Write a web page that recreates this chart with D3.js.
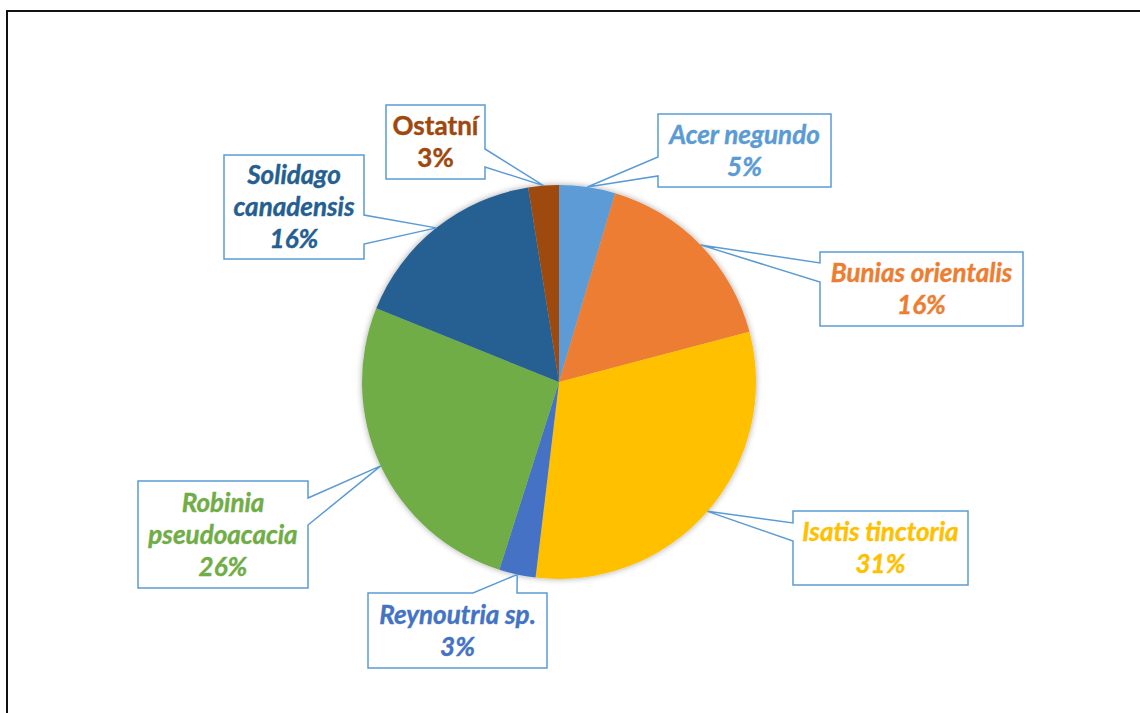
<!DOCTYPE html>
<html><head><meta charset="utf-8">
<script src="https://cdn.jsdelivr.net/npm/d3@7"></script>
<style>html,body{margin:0;padding:0;background:#fff;}svg{display:block;}</style>
</head><body>
<script>
// ---- data ----
const categories = ["Acer negundo","Bunias orientalis","Isatis tinctoria","Reynoutria sp.","Robinia pseudoacacia","Solidago canadensis","Ostatní"];
const values = [4.6, 16.3, 31.0, 3.0, 26.2, 16.4, 2.5];
const labelLines = [["Acer negundo"],["Bunias orientalis"],["Isatis tinctoria"],["Reynoutria sp."],["Robinia","pseudoacacia"],["Solidago","canadensis"],["Ostatní"]];
const colors = ["#5B9BD5","#ED7D31","#FFC000","#4472C4","#70AD47","#255E91","#9E480E"];
const italic = [true,true,true,true,true,true,false];

// ---- layout (callout boxes) ----
const boxes = [
  {x:658,y:114,w:173,h:73,side:"left",b1:43,b2:62},
  {x:820,y:252,w:203,h:74,side:"left",b1:11,b2:30},
  {x:793,y:511,w:175,h:74,side:"left",b1:12,b2:30},
  {x:368,y:593,w:179,h:75,side:"top",b1:105,b2:149},
  {x:138,y:481,w:170,h:107,side:"right",b1:17,b2:44},
  {x:224,y:155,w:140,h:104,side:"right",b1:60,b2:89},
  {x:386,y:105,w:99,h:74,side:"right",b1:44,b2:62}
];

const W=1140,H=713, cx=559, cy=382, R=197;
const svg=d3.select("body").append("svg").attr("width",W).attr("height",H);
const defs=svg.append("defs");
const f=defs.append("filter").attr("id","sh").attr("x","-20%").attr("y","-20%").attr("width","140%").attr("height","140%");
f.append("feDropShadow").attr("dx",0).attr("dy",0).attr("stdDeviation",3).attr("flood-color","#000").attr("flood-opacity",0.35);

svg.append("rect").attr("x",7).attr("y",11).attr("width",W).attr("height",H).attr("fill","#fff").attr("stroke","#111").attr("stroke-width",2);

const data = categories.map((c,i)=>({name:c,value:values[i],i}));
const pie=d3.pie().value(d=>d.value).sort(null);
const arcs=pie(data);
const arc=d3.arc().innerRadius(0).outerRadius(R);
const total=d3.sum(values);

const g=svg.append("g").attr("transform",`translate(${cx},${cy})`);
g.append("g").attr("filter","url(#sh)").selectAll("path").data(arcs).join("path")
  .attr("d",arc).attr("fill",d=>colors[d.data.i]);

// callouts
const lab=svg.append("g");
arcs.forEach((a,k)=>{
  const i=a.data.i, b=boxes[i];
  const m=(a.startAngle+a.endAngle)/2;
  const tx=cx+R*Math.sin(m), ty=cy-R*Math.cos(m);
  let p;
  if(b.side==="right"){
    p=`M${b.x},${b.y}H${b.x+b.w}V${b.y+b.b1}L${tx},${ty}L${b.x+b.w},${b.y+b.b2}V${b.y+b.h}H${b.x}Z`;
  } else if(b.side==="left"){
    p=`M${b.x},${b.y}H${b.x+b.w}V${b.y+b.h}H${b.x}V${b.y+b.b2}L${tx},${ty}L${b.x},${b.y+b.b1}Z`;
  } else {
    p=`M${b.x},${b.y}H${b.x+b.b1}L${tx},${ty}L${b.x+b.b2},${b.y}H${b.x+b.w}V${b.y+b.h}H${b.x}Z`;
  }
  lab.append("path").attr("d",p).attr("fill","#fff").attr("stroke","#5B9BD5").attr("stroke-width",1.5).attr("stroke-linejoin","miter");
  const lines=labelLines[i].concat([Math.round(values[i]/total*100)+"%"]);
  const L=32, bx=b.x+b.w/2, by=b.y+b.h/2;
  const t=lab.append("text").attr("text-anchor","middle")
    .attr("font-family","Lato, 'Open Sans', sans-serif").attr("font-weight","bold")
    .attr("font-style",italic[i]?"italic":"normal").attr("font-size",26).attr("fill",colors[i])
    .attr("stroke",colors[i]).attr("stroke-width",0.4);
  lines.forEach((s,j)=>{
    t.append("tspan").attr("x",bx).attr("y",by-(lines.length-1)*L/2+9+j*L).text(s);
  });
});
</script>
</body></html>
